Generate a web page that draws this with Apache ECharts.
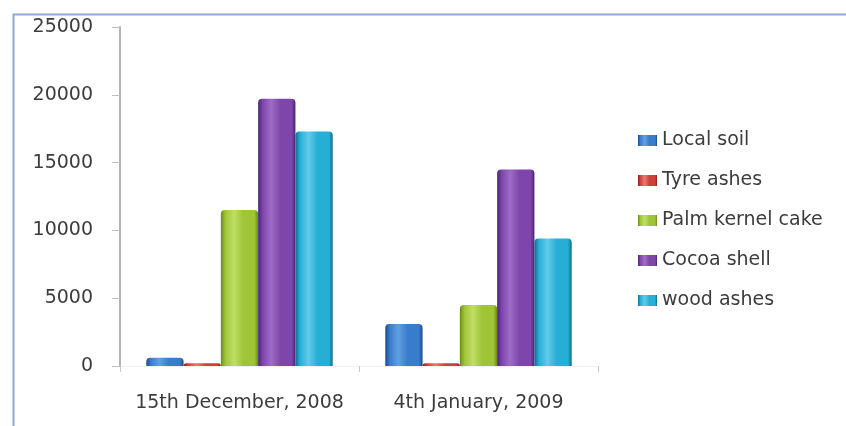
<!DOCTYPE html>
<html>
<head>
<meta charset="utf-8">
<script src="https://cdn.jsdelivr.net/npm/echarts@6/dist/echarts.min.js"></script>
<style>
  html, body { margin: 0; padding: 0; background: #fff; }
  #chart { width: 846px; height: 426px; }
</style>
</head>
<body>
<div id="chart"></div>
<script>
// Sampling dates (x categories)
const categories = ['15th December, 2008', '4th January, 2009'];

// One value per sampling date for each amendment
const localSoil = [600, 3100];
const tyreAshes = [200, 200];
const palmKernelCake = [11500, 4500];
const cocoaShell = [19700, 14500];
const woodAshes = [17300, 9400];

const seriesNames = ['Local soil', 'Tyre ashes', 'Palm kernel cake', 'Cocoa shell', 'wood ashes'];
const seriesValues = [localSoil, tyreAshes, palmKernelCake, cocoaShell, woodAshes];

// Y axis ticks
const yMin = 0, yMax = 25000, yStep = 5000;

// Base colours with darker edge / lighter middle for a rounded look
const palette = [
  { edge: '#1c4a88', mid: '#3a7ccc', light: '#62a0e2' },
  { edge: '#8e1f1c', mid: '#d0403a', light: '#e77a74' },
  { edge: '#6a8a1a', mid: '#9fc536', light: '#c0de66' },
  { edge: '#4a2472', mid: '#7e45aa', light: '#9e6cc6' },
  { edge: '#106c8a', mid: '#26aed6', light: '#62cbe8' }
];

function barFill(c) {
  return new echarts.graphic.LinearGradient(0, 0, 1, 0, [
    { offset: 0, color: c.edge },
    { offset: 0.12, color: c.mid },
    { offset: 0.35, color: c.light },
    { offset: 0.6, color: c.mid },
    { offset: 0.9, color: c.mid },
    { offset: 1, color: c.edge }
  ]);
}

const chart = echarts.init(document.getElementById('chart'), null, { renderer: 'canvas' });

const textColor = '#3c3c3c';
const fontFamily = 'DejaVu Sans, Verdana, sans-serif';

chart.setOption({
  animation: false,
  backgroundColor: '#ffffff',
  color: palette.map(p => p.mid),
  graphic: [{
    type: 'rect',
    left: 11, top: 12,
    shape: { width: 900, height: 500 },
    style: { fill: 'none', stroke: '#8eaad0', lineWidth: 2 },
    silent: true,
    z: -10
  }],
  grid: { left: 120, right: 248, top: 27, bottom: 60, containLabel: false },
  legend: {
    orient: 'vertical',
    left: 633,
    top: 126,
    icon: 'rect',
    itemWidth: 19,
    itemHeight: 11,
    itemGap: 21,
    textStyle: { color: textColor, fontSize: 19, fontFamily: fontFamily, lineHeight: 19 },
    data: seriesNames
  },
  xAxis: {
    type: 'category',
    data: categories,
    axisLine: { show: true, lineStyle: { color: '#f0f0f0', width: 1 } },
    axisTick: { show: true, length: 6, lineStyle: { color: '#c8c8c8' } },
    axisLabel: {
      color: textColor, fontSize: 19, fontFamily: fontFamily, margin: 28,
      interval: 0, hideOverlap: false
    }
  },
  yAxis: {
    type: 'value',
    min: yMin, max: yMax, interval: yStep,
    splitLine: { show: false },
    axisLine: { show: true, lineStyle: { color: '#b4b4b4', width: 2 } },
    axisTick: { show: true, length: 8, lineStyle: { color: '#c0c0c0' } },
    axisLabel: {
      color: textColor, fontSize: 19, fontFamily: fontFamily, margin: 27,
      formatter: v => String(v)
    }
  },
  series: seriesNames.map((name, i) => ({
    name: name,
    type: 'bar',
    data: seriesValues[i],
    barGap: '0%',
    barCategoryGap: '22%',
    itemStyle: { color: barFill(palette[i]), borderRadius: [4, 4, 0, 0] }
  }))
});
</script>
</body>
</html>
